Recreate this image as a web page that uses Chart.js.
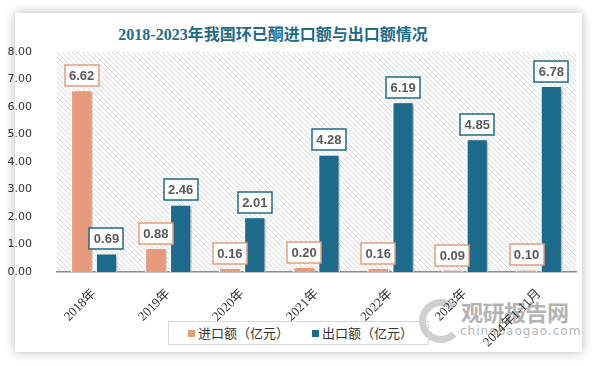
<!DOCTYPE html>
<html>
<head>
<meta charset="utf-8">
<script src="https://cdn.jsdelivr.net/npm/chart.js@4.4.1/dist/chart.umd.min.js"></script>
<style>
  html, body { margin: 0; padding: 0; background: #fff; }
  body { width: 594px; height: 366px; position: relative; overflow: hidden; }
  #card {
    position: absolute; left: 15px; top: 13px; width: 567px; height: 339px;
    background: #fff; box-shadow: 0 0 10px rgba(0, 0, 0, 0.28);
  }
  #title {
    position: absolute; left: 113px; top: 21px; width: 320px; text-align: center;
    font: bold 16px "Liberation Serif", "Noto Sans CJK SC", serif; color: #1f6b8a;
    white-space: nowrap;
  }
  #mark { position: absolute; left: 415px; top: 291px; width: 165px; height: 56px; color: #b4b4b4; }
  #mark .ring {
    position: absolute; left: 4px; top: 8px; width: 30px; height: 30px; border-radius: 50%;
    border: 7px solid #cfcfcf; border-right-color: transparent;
  }
  #mark .cn { position: absolute; left: 46px; top: 4px; font: bold 22px "Noto Sans CJK SC", sans-serif; letter-spacing: -0.5px; }
  #mark .en { position: absolute; left: 45px; top: 33px; font: 12px "DejaVu Sans", sans-serif; letter-spacing: 1px; }
  #legend {
    position: absolute; left: 168px; top: 321px; width: 259px; height: 22px;
    border: 1px solid #d9d9d9; font: 13px "Noto Sans CJK SC", sans-serif; color: #333;
  }
  #legend .item { position: absolute; top: 0; line-height: 22px; white-space: nowrap; }
  #legend .swatch { display: inline-block; width: 7px; height: 7px; margin-right: 3px; vertical-align: 1px; }
  #chart { position: absolute; left: 0; top: 0; }
</style>
</head>
<body>
<div id="card"></div>
<div id="mark"><div class="ring"></div><div class="cn">观研报告网</div><div class="en">chinabaogao.com</div></div>
<div id="title">2018-2023年我国环已酮进口额与出口额情况</div>
<div id="legend"></div>
<canvas id="chart" width="594" height="366"></canvas>
<script>
(function () {
  'use strict';

  var categories = ['2018年', '2019年', '2020年', '2021年', '2022年', '2023年', '2024年1-11月'];
  var importValues = [6.62, 0.88, 0.16, 0.20, 0.16, 0.09, 0.10];
  var exportValues = [0.69, 2.46, 2.01, 4.28, 6.19, 4.85, 6.78];
  var seriesNames = ['进口额（亿元）', '出口额（亿元）'];
  var yMax = 8;

  var IMPORT_COLOR = '#e89b7b';
  var EXPORT_COLOR = '#1c6b8d';

  // pixel-stepped "\" hatching behind the bars, like the office-style plot area
  function hatchPattern(ctx) {
    var s = 5;
    var c = document.createElement('canvas');
    c.width = s; c.height = s;
    var p = c.getContext('2d');
    p.fillStyle = '#ffffff';
    p.fillRect(0, 0, s, s);
    p.fillStyle = '#d6d6d6';
    for (var i = 0; i < s; i++) p.fillRect(i, i, 1, 1);
    return ctx.createPattern(c, 'repeat');
  }

  var plotBackground = {
    id: 'plotBackground',
    beforeDraw: function (chart) {
      var a = chart.chartArea;
      var ctx = chart.ctx;
      ctx.save();
      ctx.fillStyle = hatchPattern(ctx);
      ctx.fillRect(a.left, a.top, a.right - a.left, a.bottom - a.top);
      ctx.restore();
    }
  };

  // soft shadow to the lower right of every bar
  var barShadow = {
    id: 'barShadow',
    beforeDatasetsDraw: function (chart) {
      var ctx = chart.ctx;
      ctx.save();
      ctx.shadowColor = 'rgba(0, 0, 0, 0.35)';
      ctx.shadowBlur = 3;
      ctx.shadowOffsetX = 2;
      ctx.shadowOffsetY = 1;
    },
    afterDatasetsDraw: function (chart) {
      chart.ctx.restore();
    }
  };

  // boxed value labels above each bar, border in the series colour
  var valueBoxes = {
    id: 'valueBoxes',
    afterDatasetsDraw: function (chart) {
      var ctx = chart.ctx;
      ctx.save();
      ctx.font = 'bold 13px "Liberation Sans", sans-serif';
      ctx.textAlign = 'center';
      ctx.textBaseline = 'middle';
      chart.data.datasets.forEach(function (ds, di) {
        var meta = chart.getDatasetMeta(di);
        meta.data.forEach(function (bar, i) {
          var text = ds.data[i].toFixed(2);
          var w = Math.round(ctx.measureText(text).width) + 9;
          var h = 21;
          var x = Math.round(bar.x - w / 2);
          var y = Math.round(bar.y - 4 - h);
          ctx.fillStyle = '#ffffff';
          ctx.fillRect(x, y, w, h);
          ctx.strokeStyle = ds.borderLabel;
          ctx.lineWidth = 1.5;
          ctx.strokeRect(x, y, w, h);
          ctx.fillStyle = '#595959';
          ctx.fillText(text, bar.x, y + h / 2 + 1);
        });
      });
      ctx.restore();
    }
  };

  var datasets = [importValues, exportValues].map(function (values, i) {
    var color = i === 0 ? IMPORT_COLOR : EXPORT_COLOR;
    return {
      label: seriesNames[i],
      data: values,
      backgroundColor: color,
      borderColor: '#ffffff',
      borderWidth: 1.5,
      borderLabel: color,
      barPercentage: 0.89,
      categoryPercentage: 0.67
    };
  });

  // framed legend under the axis labels (it overlaps the long last label, as in the original)
  var legend = document.getElementById('legend');
  var itemLeft = [19, 143];
  datasets.forEach(function (ds, i) {
    var item = document.createElement('span');
    item.className = 'item';
    item.style.left = itemLeft[i] + 'px';
    var sw = document.createElement('span');
    sw.className = 'swatch';
    sw.style.background = ds.backgroundColor;
    item.appendChild(sw);
    item.appendChild(document.createTextNode(ds.label));
    legend.appendChild(item);
  });

  var config = {
    type: 'bar',
    data: { labels: categories, datasets: datasets },
    options: {
      responsive: false,
      animation: false,
      layout: { padding: { top: 52, right: 18, bottom: 0, left: 0 } },
      plugins: {
        tooltip: { enabled: false },
        legend: { display: false }
      },
      scales: {
        x: {
          grid: { display: false },
          border: { color: '#8c8c8c', width: 1.5 },
          ticks: {
            minRotation: 45,
            maxRotation: 45,
            padding: 6,
            color: '#333333',
            font: { family: '"Liberation Serif", "Noto Sans CJK SC", serif', size: 13 }
          },
          afterFit: function (scale) { scale.height = 94; }
        },
        y: {
          min: 0,
          max: yMax,
          grid: { display: false },
          border: { display: false },
          ticks: {
            stepSize: 1,
            padding: 17,
            color: '#333333',
            font: { family: '"DejaVu Sans", sans-serif', size: 11 },
            callback: function (v) { return Number(v).toFixed(2); }
          },
          afterFit: function (scale) { scale.width = 57; }
        }
      }
    },
    plugins: [plotBackground, barShadow, valueBoxes]
  };

  new Chart(document.getElementById('chart'), config);
})();
</script>
</body>
</html>
